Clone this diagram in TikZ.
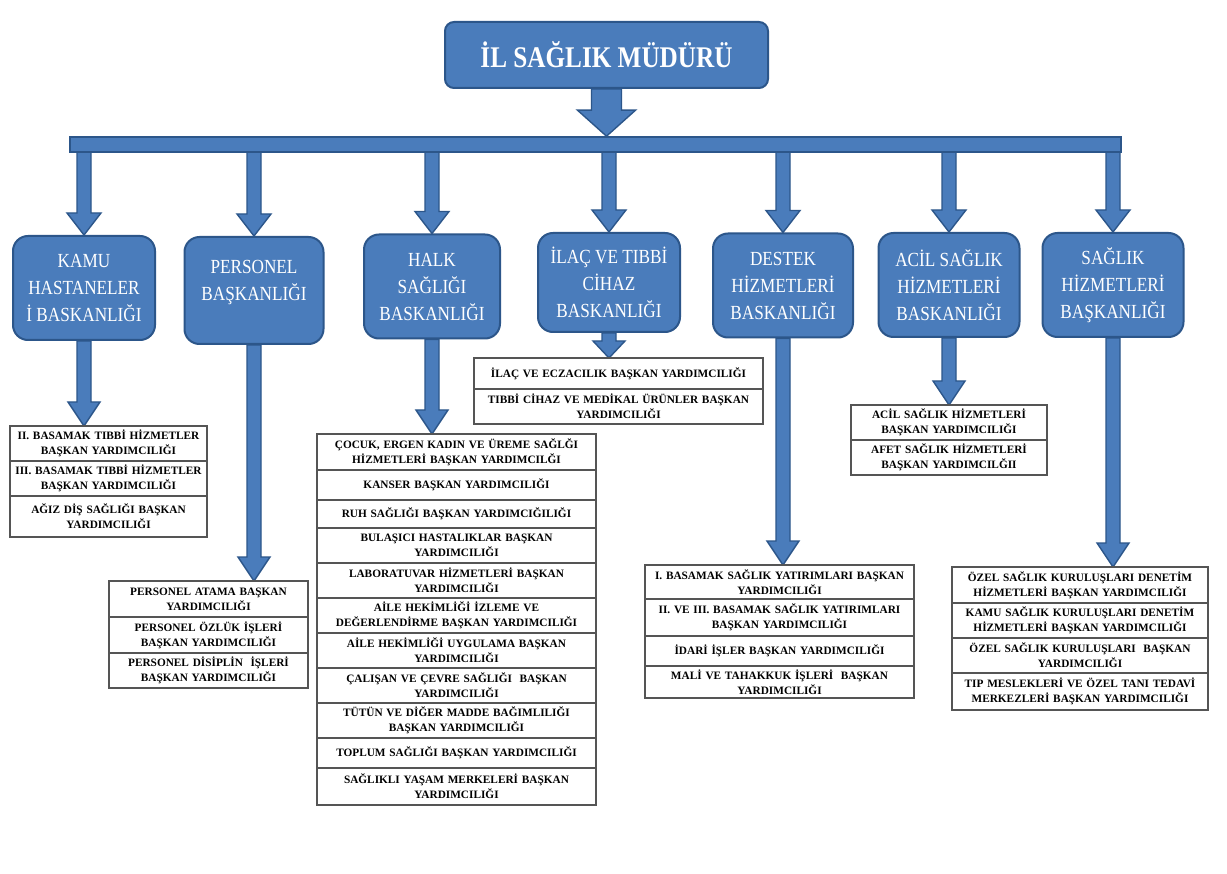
\documentclass[tikz,border=0pt]{standalone}
\usepackage{fontspec}
\setmainfont{Liberation Serif}
\newfontfamily\deptfont[FakeStretch=0.86]{Liberation Serif}
\newfontfamily\headfont[FakeStretch=0.84]{Liberation Serif}
\usetikzlibrary{calc}
\pgfdeclarelayer{paper}
\pgfdeclarelayer{arrows}
\pgfsetlayers{paper,arrows,main}
\definecolor{orgblue}{RGB}{74,124,187}
\definecolor{orgedge}{RGB}{44,86,138}
\definecolor{celledge}{RGB}{85,85,85}

% block arrow: start, end, shaft half width, head half width, head length (pt)
\newcommand{\blockdrop}[5]{%
  \filldraw[blockarrow] let \p1=(#1), \p2=(#2) in
    (\x1-#3pt,\y1) -- (\x1+#3pt,\y1) -- (\x1+#3pt,\y2+#5pt) -- (\x1+#4pt,\y2+#5pt)
    -- (\x1,\y2) -- (\x1-#4pt,\y2+#5pt) -- (\x1-#3pt,\y2+#5pt) -- cycle;}

\tikzset{
  chief/.style={draw=orgedge, line width=2pt, fill=orgblue, rounded corners=9pt,
    minimum width=323pt, minimum height=66pt, text=white,
    font=\headfont\bfseries\fontsize{30}{34}\selectfont},
  dept/.style={draw=orgedge, line width=2pt, fill=orgblue, rounded corners=15pt,
    minimum height=104pt, text=white, align=center,
    font=\deptfont\fontsize{20}{27}\selectfont},
  rail/.style={draw=orgedge, line width=1.6pt, fill=orgblue,
    minimum width=1051pt, minimum height=15pt, inner sep=0pt},
  blockarrow/.style={draw=orgedge, line width=1.4pt, fill=orgblue, line join=miter},
  cell/.style={draw=celledge, line width=1.2pt, fill=white, text width=#1,
    minimum width=#1, inner xsep=0pt, inner ysep=1pt, outer sep=0pt,
    align=center, anchor=north, font=\bfseries\fontsize{11.3}{15}\selectfont}
}

\begin{document}
\begin{tikzpicture}[x=1pt,y=-1pt]
\useasboundingbox (0,0) rectangle (1227,874);
\begin{pgfonlayer}{paper}
  \fill[white] (0,0) rectangle (1227,874);
\end{pgfonlayer}

% head office and distribution rail
\node[chief] (chief) at (606.5,55) {İL SAĞLIK MÜDÜRÜ};
\node[rail] (rail) at (595.5,144.5) {};

% departments
\node[dept, minimum width=142pt] (kamu) at (84,288) {KAMU\\HASTANELER\\İ BASKANLIĞI};
\node[dept, minimum width=139pt, minimum height=107pt] (pers) at (254,290.5) {PERSONEL\\BAŞKANLIĞI\\[-6pt]~};
\node[dept, minimum width=136pt] (halk) at (432,286.5) {HALK\\SAĞLIĞI\\BASKANLIĞI};
\node[dept, minimum width=142pt, minimum height=99pt] (ilac) at (609,282.5) {İLAÇ VE TIBBİ\\CİHAZ\\BASKANLIĞI};
\node[dept, minimum width=140pt] (destek) at (783,285.5) {DESTEK\\HİZMETLERİ\\BASKANLIĞI};
\node[dept, minimum width=141pt] (acil) at (949,285) {ACİL SAĞLIK\\HİZMETLERİ\\BASKANLIĞI};
\node[dept, minimum width=141pt] (saglik) at (1113,285) {SAĞLIK\\HİZMETLERİ\\BAŞKANLIĞI};

% deputy offices: Kamu Hastaneleri
\node[cell=197pt, minimum height=35pt] (k1) at (108.5,426) {II. BASAMAK TIBBİ HİZMETLER\\BAŞKAN YARDIMCILIĞI};
\node[cell=197pt, minimum height=35pt] (k2) at (k1.south) {III. BASAMAK TIBBİ HİZMETLER\\BAŞKAN YARDIMCILIĞI};
\node[cell=197pt, minimum height=41pt] (k3) at (k2.south) {AĞIZ DİŞ SAĞLIĞI BAŞKAN\\YARDIMCILIĞI};

% Personel
\node[cell=199pt, minimum height=36pt] (p1) at (208.5,581) {PERSONEL ATAMA BAŞKAN\\YARDIMCILIĞI};
\node[cell=199pt, minimum height=36pt] (p2) at (p1.south) {PERSONEL ÖZLÜK İŞLERİ\\BAŞKAN YARDIMCILIĞI};
\node[cell=199pt, minimum height=35pt] (p3) at (p2.south) {PERSONEL DİSİPLİN\ \ İŞLERİ\\BAŞKAN YARDIMCILIĞI};

% Halk Sağlığı
\node[cell=279pt, minimum height=36pt] (h1) at (456.5,434) {ÇOCUK, ERGEN KADIN VE ÜREME SAĞLĞI\\HİZMETLERİ BAŞKAN YARDIMCILĞI};
\node[cell=279pt, minimum height=30pt] (h2) at (h1.south) {KANSER BAŞKAN YARDIMCILIĞI};
\node[cell=279pt, minimum height=28pt] (h3) at (h2.south) {RUH SAĞLIĞI BAŞKAN YARDIMCIĞILIĞI};
\node[cell=279pt, minimum height=35pt] (h4) at (h3.south) {BULAŞICI HASTALIKLAR BAŞKAN\\YARDIMCILIĞI};
\node[cell=279pt, minimum height=35pt] (h5) at (h4.south) {LABORATUVAR HİZMETLERİ BAŞKAN\\YARDIMCILIĞI};
\node[cell=279pt, minimum height=35pt] (h6) at (h5.south) {AİLE HEKİMLİĞİ İZLEME VE\\DEĞERLENDİRME BAŞKAN YARDIMCILIĞI};
\node[cell=279pt, minimum height=35pt] (h7) at (h6.south) {AİLE HEKİMLİĞİ UYGULAMA BAŞKAN\\YARDIMCILIĞI};
\node[cell=279pt, minimum height=35pt] (h8) at (h7.south) {ÇALIŞAN VE ÇEVRE SAĞLIĞI\ \ BAŞKAN\\YARDIMCILIĞI};
\node[cell=279pt, minimum height=35pt] (h9) at (h8.south) {TÜTÜN VE DİĞER MADDE BAĞIMLILIĞI\\BAŞKAN YARDIMCILIĞI};
\node[cell=279pt, minimum height=30pt] (h10) at (h9.south) {TOPLUM SAĞLIĞI BAŞKAN YARDIMCILIĞI};
\node[cell=279pt, minimum height=37pt] (h11) at (h10.south) {SAĞLIKLI YAŞAM MERKELERİ BAŞKAN\\YARDIMCILIĞI};

% İlaç ve Tıbbi Cihaz
\node[cell=289pt, minimum height=31pt] (i1) at (618.5,358) {İLAÇ VE ECZACILIK BAŞKAN YARDIMCILIĞI};
\node[cell=289pt, minimum height=35pt] (i2) at (i1.south) {TIBBİ CİHAZ VE MEDİKAL ÜRÜNLER BAŞKAN\\YARDIMCILIĞI};

% Destek Hizmetleri
\node[cell=269pt, minimum height=34pt] (d1) at (779.5,565) {I. BASAMAK SAĞLIK YATIRIMLARI BAŞKAN\\YARDIMCILIĞI};
\node[cell=269pt, minimum height=37pt] (d2) at (d1.south) {II. VE III. BASAMAK SAĞLIK YATIRIMLARI\\BAŞKAN YARDIMCILIĞI};
\node[cell=269pt, minimum height=30pt] (d3) at (d2.south) {İDARİ İŞLER BAŞKAN YARDIMCILIĞI};
\node[cell=269pt, minimum height=32pt] (d4) at (d3.south) {MALİ VE TAHAKKUK İŞLERİ\ \ BAŞKAN\\YARDIMCILIĞI};

% Acil Sağlık Hizmetleri
\node[cell=196pt, minimum height=35pt] (a1) at (949,405) {ACİL SAĞLIK HİZMETLERİ\\BAŞKAN YARDIMCILIĞI};
\node[cell=196pt, minimum height=35pt] (a2) at (a1.south) {AFET SAĞLIK HİZMETLERİ\\BAŞKAN YARDIMCILĞII};

% Sağlık Hizmetleri
\node[cell=256pt, minimum height=36pt] (g1) at (1080,567) {ÖZEL SAĞLIK KURULUŞLARI DENETİM\\HİZMETLERİ BAŞKAN YARDIMCILIĞI};
\node[cell=256pt, minimum height=35pt] (g2) at (g1.south) {KAMU SAĞLIK KURULUŞLARI DENETİM\\HİZMETLERİ BAŞKAN YARDIMCILIĞI};
\node[cell=256pt, minimum height=35pt] (g3) at (g2.south) {ÖZEL SAĞLIK KURULUŞLARI\ \ BAŞKAN\\YARDIMCILIĞI};
\node[cell=256pt, minimum height=37pt] (g4) at (g3.south) {TIP MESLEKLERİ VE ÖZEL TANI TEDAVİ\\MERKEZLERİ BAŞKAN YARDIMCILIĞI};

% block arrows, kept behind the boxes
\begin{pgfonlayer}{arrows}
  \blockdrop{chief.south}{rail.north}{15}{29}{26}
  \foreach \d in {kamu,pers,halk,ilac,destek,acil,saglik}{
    \blockdrop{rail.center -| \d.north}{\d.north}{7}{17}{22}
  }
  \blockdrop{kamu.south}{k1.north}{7}{16}{24}
  \blockdrop{pers.south}{p1.north}{7}{16}{24}
  \blockdrop{halk.south}{h1.north}{7}{16}{24}
  \blockdrop{ilac.south}{i1.north}{7}{16}{17}
  \blockdrop{destek.south}{d1.north}{7}{16}{24}
  \blockdrop{acil.south}{a1.north}{7}{16}{24}
  \blockdrop{saglik.south}{g1.north}{7}{16}{24}
\end{pgfonlayer}
\end{tikzpicture}
\end{document}
